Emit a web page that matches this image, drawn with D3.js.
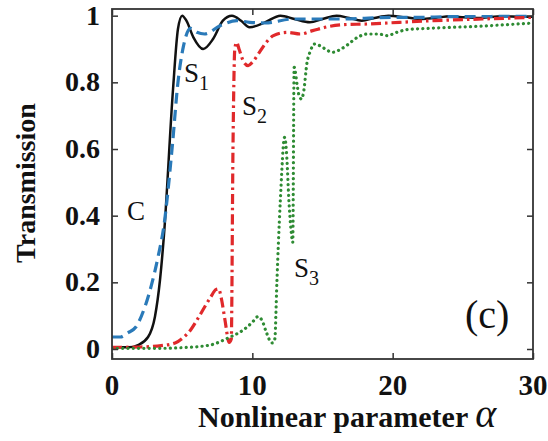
<!DOCTYPE html>
<html><head><meta charset="utf-8">
<script src="https://cdn.jsdelivr.net/npm/d3@7"></script>
<style>
html,body{margin:0;padding:0;background:#fff;}
svg{display:block;}
</style></head>
<body>
<svg id="chart" width="548" height="441"></svg>
<script>
// ---- data ----
const xTicks = [0, 10, 20, 30];
const yTicks = [0, 0.2, 0.4, 0.6, 0.8, 1];
const yTickLabels = ["0", "0.2", "0.4", "0.6", "0.8", "1"];

const alphaC = [0,0.6,1.1,1.7,2.35,2.8,3.3,3.7,4.3,4.7,5.1,5.6,6.05,6.6,7.7,8.9,9.8,10.9,12.9,14.3,16.2,18,20,22,24,26,28,30];
const transC = [0.036,0.036,0.048,0.066,0.127,0.19,0.28,0.37,0.61,0.80,0.91,0.962,0.95,0.945,0.97,0.985,0.98,0.978,0.99,0.99,0.99,0.992,0.995,0.995,0.997,0.997,0.998,0.998];

const alphaS1 = [0,1.2,1.85,2.57,3.06,3.42,3.7,4.35,4.7,5.0,5.3,5.8,6.5,7.2,7.9,8.55,9.2,9.8,10.9,12.0,13.0,14.1,15.0,16.0,16.9,17.8,18.7,19.7,20.9,22.1,23.1,24.1,25.1,26.0,27,28,29,30];
const transS1 = [0.005,0.005,0.012,0.036,0.097,0.207,0.34,0.78,0.96,1.0,0.985,0.935,0.90,0.93,0.985,1.0,0.985,0.965,0.98,1.0,0.99,0.98,0.99,1.0,0.993,0.985,0.993,1.0,0.995,0.99,0.994,0.998,0.995,0.993,0.996,0.998,0.997,0.997];

const alphaS2 = [0,2,3.5,4.5,5.1,5.6,6.1,6.6,7.05,7.4,7.6,7.8,8.05,8.35,8.5,8.62,8.75,8.88,9.05,9.4,9.7,10.0,10.5,11.0,11.5,12.5,13.4,14.3,15.5,16.5,18.2,20.5,22.9,26.4,30];
const transS2 = [0.005,0.006,0.010,0.018,0.035,0.057,0.09,0.126,0.157,0.178,0.18,0.15,0.087,0.02,0.03,0.6,0.9,0.92,0.90,0.86,0.85,0.86,0.89,0.92,0.94,0.95,0.945,0.955,0.968,0.973,0.975,0.98,0.985,0.99,0.995];

const alphaS3 = [0,3,5,7,8.27,9.35,10.0,10.4,10.7,11.0,11.4,11.6,11.75,11.85,12.0,12.3,12.45,12.6,12.75,12.88,12.98,13.2,13.3,13.5,13.65,13.9,14.1,14.45,14.8,15.2,15.7,16.1,16.7,17.5,18.2,19.0,19.6,20.3,21,22.5,24.1,26,27.7,30];
const transS3 = [0.002,0.002,0.004,0.012,0.033,0.057,0.08,0.097,0.085,0.05,0.018,0.03,0.2,0.31,0.45,0.635,0.58,0.45,0.36,0.32,0.845,0.79,0.765,0.75,0.77,0.86,0.89,0.915,0.91,0.9,0.89,0.895,0.91,0.935,0.945,0.945,0.94,0.95,0.958,0.962,0.965,0.968,0.972,0.978];

// ---- layout ----
const svg = d3.select("#chart");
const L = 112, R = 533, T = 9, B = 359;
const x = d3.scaleLinear().domain([0, 30]).range([L, R]);
const y = d3.scaleLinear().domain([-0.03, 1.02]).range([B, T]);

const series = [
  {a: alphaS1, t: transS1, color: "#111111", width: 2.5, dash: null, cap: "butt"},
  {a: alphaC,  t: transC,  color: "#2a7ab9", width: 3.2, dash: "11,6", cap: "butt"},
  {a: alphaS2, t: transS2, color: "#e0292b", width: 3.2, dash: "10,4,2.5,4", cap: "butt"},
  {a: alphaS3, t: transS3, color: "#2e8b33", width: 3.2, dash: "0.1,5.2", cap: "round"}
];

const line = d3.line().x(d => x(d[0])).y(d => y(d[1])).curve(d3.curveMonotoneX);

const g = svg.append("g");
g.append("defs").append("clipPath").attr("id","clip")
  .append("rect").attr("x", L).attr("y", T).attr("width", R - L).attr("height", B - T);

const plot = g.append("g").attr("clip-path", "url(#clip)");
series.forEach(s => {
  const pts = s.a.map((v, i) => [v, s.t[i]]);
  plot.append("path").datum(pts)
    .attr("d", line)
    .attr("fill", "none")
    .attr("stroke", s.color)
    .attr("stroke-width", s.width)
    .attr("stroke-dasharray", s.dash)
    .attr("stroke-linecap", s.cap)
    .attr("stroke-linejoin", "round");
});

// axes with inward ticks, mirrored
const tickLen = 6;
const axB = d3.axisBottom(x).tickValues(xTicks).tickSize(-tickLen).tickFormat("");
const axT = d3.axisTop(x).tickValues(xTicks).tickSize(-tickLen).tickFormat("");
const axL = d3.axisLeft(y).tickValues(yTicks).tickSize(-tickLen).tickFormat("");
const axR = d3.axisRight(y).tickValues(yTicks).tickSize(-tickLen).tickFormat("");
[[axB, `translate(0,${B})`], [axT, `translate(0,${T})`], [axL, `translate(${L},0)`], [axR, `translate(${R},0)`]].forEach(([ax, tr]) => {
  const gg = g.append("g").attr("transform", tr).call(ax);
  gg.select(".domain").remove();
  gg.selectAll(".tick line").attr("stroke", "#333").attr("stroke-width", 1.5);
});
g.append("rect").attr("x", L).attr("y", T).attr("width", R - L).attr("height", B - T)
  .attr("fill", "none").attr("stroke", "#333").attr("stroke-width", 1.8);

// tick labels
const serif = "'Liberation Serif','Times New Roman',serif";
g.selectAll(".xl").data(xTicks).enter().append("text")
  .attr("x", d => x(d)).attr("y", 395)
  .attr("text-anchor", "middle")
  .attr("font-family", serif).attr("font-weight", "bold").attr("font-size", 29)
  .attr("fill", "#111")
  .text(d => d);
g.selectAll(".yl").data(yTicks).enter().append("text")
  .attr("x", 100).attr("y", d => y(d) + 9)
  .attr("text-anchor", "end")
  .attr("font-family", serif).attr("font-weight", "bold").attr("font-size", 28)
  .attr("fill", "#111")
  .text((d, i) => yTickLabels[i]);

// axis titles
const xt = g.append("text").attr("x", 198).attr("y", 427)
  .attr("font-family", serif).attr("font-weight", "bold").attr("font-size", 30).attr("fill", "#111");
xt.append("tspan").text("Nonlinear parameter ");
xt.append("tspan").attr("font-style", "italic").attr("font-weight", "normal").attr("font-size", 40).text("α");

g.append("text").attr("transform", "translate(35,183) rotate(-90)")
  .attr("text-anchor", "middle")
  .attr("font-family", serif).attr("font-weight", "bold").attr("font-size", 28).attr("fill", "#111")
  .text("Transmission");

// curve annotations
function label(txt, sub, px, py) {
  const t = g.append("text").attr("x", px).attr("y", py)
    .attr("font-family", serif).attr("font-size", 27).attr("fill", "#111");
  t.append("tspan").text(txt);
  if (sub) t.append("tspan").attr("font-size", 20).attr("dy", 8).text(sub);
}
label("C", null, 127, 220);
label("S", "1", 184, 82);
label("S", "2", 242, 115);
label("S", "3", 294, 277);
g.append("text").attr("x", 465).attr("y", 328)
  .attr("font-family", serif).attr("font-size", 40).attr("fill", "#111").text("(c)");
</script>
</body></html>
